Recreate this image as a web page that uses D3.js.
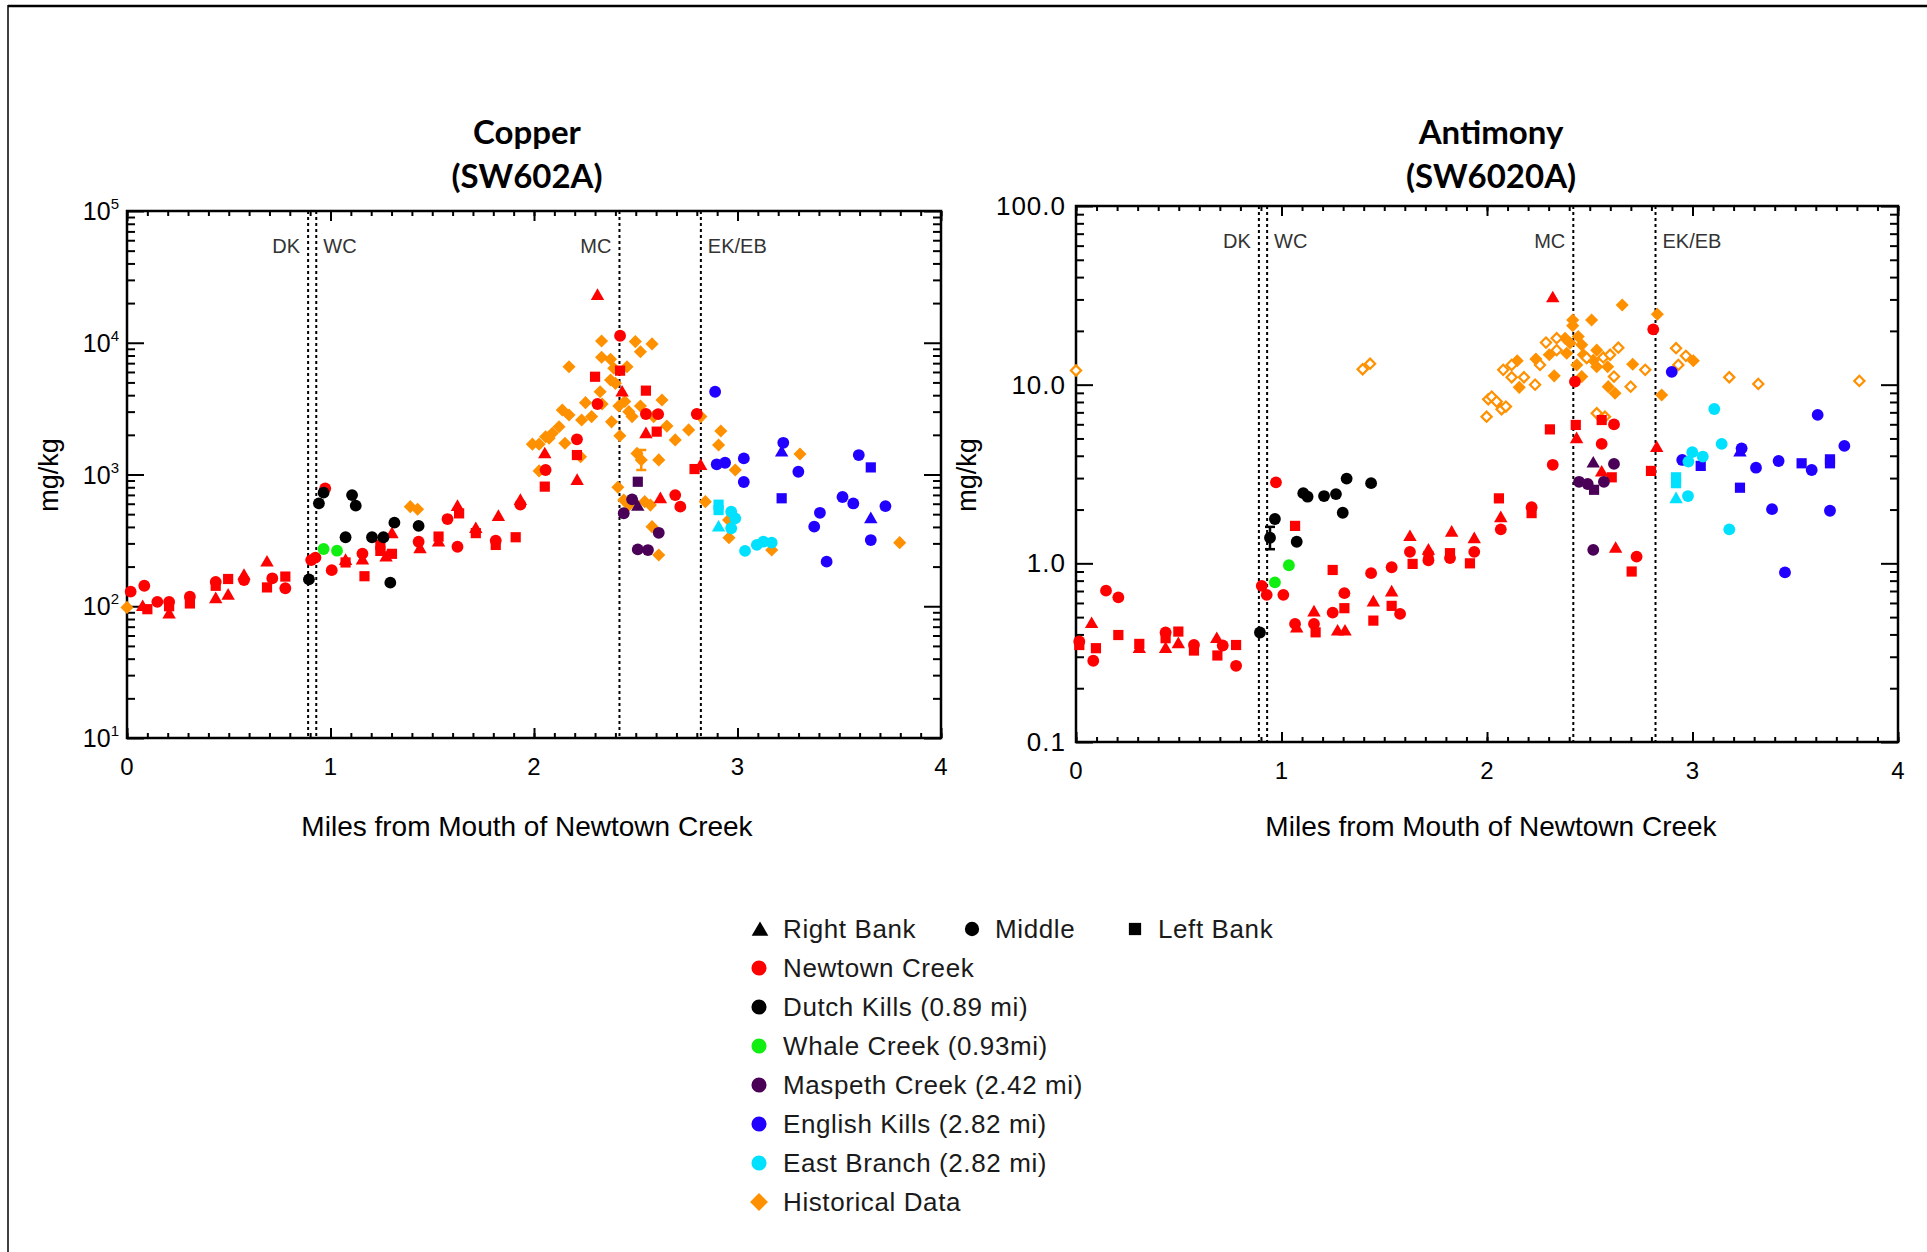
<!DOCTYPE html>
<html>
<head>
<meta charset="utf-8">
<script src="https://cdn.jsdelivr.net/npm/d3@7.9.0/dist/d3.min.js"></script>
<style>
  body { margin: 0; background: #fff; }
  svg { display: block; font-family: "Liberation Sans", Arial, sans-serif; }
</style>
</head>
<body>
<svg id="chart" width="1927" height="1252"></svg>
<script>
// ---- data: [miles, value, shape]  shape: t = right bank, c = middle, s = left bank
const cuNewtown = [
  [0.018,129,'c'],[0.085,143,'c'],[0.077,100,'t'],[0.10,95,'s'],[0.149,108,'c'],[0.207,108,'c'],[0.207,100,'s'],
  [0.207,88,'t'],[0.309,118,'c'],[0.309,105,'s'],[0.436,153,'c'],[0.436,143,'s'],[0.436,115,'t'],[0.497,161,'s'],
  [0.497,122,'t'],[0.575,173,'t'],[0.575,158,'c'],[0.688,218,'t'],[0.714,163,'c'],[0.688,139,'s'],[0.778,168,'s'],
  [0.778,137,'c'],[0.905,224,'c'],[0.926,234,'c'],[0.974,785,'c'],[1.006,188,'c'],[1.074,224,'t'],[1.074,215,'s'],
  [1.157,251,'c'],[1.157,226,'t'],[1.167,169,'s'],[1.245,292,'s'],[1.245,263,'s'],[1.302,358,'t'],[1.273,238,'t'],
  [1.302,250,'s'],[1.433,309,'c'],[1.44,275,'t'],[1.531,338,'s'],[1.531,309,'t'],[1.575,459,'c'],[1.624,576,'t'],
  [1.632,507,'s'],[1.624,283,'c'],[1.714,391,'t'],[1.714,359,'s'],[1.812,315,'c'],[1.812,292,'s'],[1.825,484,'t'],
  [1.91,334,'s'],[1.933,640,'t'],[1.933,590,'c'],[2.053,809,'s'],[2.053,1446,'t'],[2.057,1082,'c'],[2.312,23000,'t'],
  [2.423,11300,'c'],[2.423,6140,'s'],[2.30,5520,'s'],[2.433,4250,'t'],[2.55,4330,'s'],[2.312,3430,'c'],[2.55,2880,'c'],
  [2.61,2870,'c'],[2.80,2880,'c'],[2.55,2055,'t'],[2.603,2115,'s'],[2.211,1850,'c'],[2.211,1405,'s'],[2.212,908,'t'],
  [2.819,1180,'t'],[2.789,1100,'s'],[2.621,660,'t'],[2.694,698,'c'],[2.719,570,'c']
];
const cuDutch = [
  [0.894,160,'c'],[0.966,728,'c'],[0.943,604,'c'],[1.106,698,'c'],[1.124,580,'c'],[1.074,334,'c'],[1.204,334,'c'],
  [1.26,334,'c'],[1.314,431,'c'],[1.294,151,'c'],[1.433,407,'c']
];
const cuWhale = [[0.966,272,'c'],[1.032,264,'c']];
const cuMaspeth = [
  [2.51,881,'s'],[2.482,648,'c'],[2.51,577,'t'],[2.441,508,'c'],[2.613,361,'c'],[2.51,270,'c'],[2.56,267,'c']
];
const cuEnglish = [
  [2.89,4250,'c'],[2.898,1195,'c'],[2.939,1228,'c'],[3.031,1325,'c'],[3.031,877,'c'],[3.217,1490,'t'],[3.225,1740,'c'],
  [3.299,1050,'c'],[3.217,660,'s'],[3.596,1405,'c'],[3.655,1132,'s'],[3.516,675,'c'],[3.569,603,'c'],[3.727,576,'c'],
  [3.655,465,'t'],[3.405,512,'c'],[3.377,402,'c'],[3.655,318,'c'],[3.438,218,'c']
];
const cuEast = [
  [2.907,590,'s'],[2.907,537,'s'],[2.969,522,'c'],[2.989,465,'c'],[2.907,402,'t'],[2.969,391,'c'],[3.037,263,'c'],
  [3.095,292,'c'],[3.127,309,'c'],[3.168,304,'c']
];
const cuHistorical = [
  [0,98],[1.392,570],[1.428,545],[1.992,1700],[2.025,1700],[2.057,1936],[2.025,1065],[2.332,10300],[2.498,10200],
  [2.58,9800],[2.523,8550],[2.332,7760],[2.376,7490],[2.172,6580],[2.392,6400],[2.457,6580],[2.376,5210],[2.40,4920],
  [2.325,4250],[2.629,3675],[2.253,3510],[2.335,3430],[2.417,3310],[2.446,3580],[2.523,3310],[2.139,3090],[2.172,2830],
  [2.234,2595],[2.283,2750],[2.466,3000],[2.482,2750],[2.588,2750],[2.82,2750],[2.381,2510],[2.653,2330],[2.76,2180],
  [2.694,1830],[2.123,2305],[2.09,2055],[2.074,1885],[2.152,1725],[2.422,1970],[2.229,1365],[2.506,1446],[2.527,1290],
  [2.613,1290],[2.907,1675],[2.918,2140],[2.989,1082],[2.412,800],[2.441,640],[2.466,586],[2.544,622],[2.572,586],
  [2.842,622],[2.58,402],[2.613,245],[2.956,452],[2.958,331],[3.168,267],[3.307,1430],[3.797,304]
];
const cuHistoricalOpen = [];
const cuErrors = [[2.527,1082,1535]];

const sbNewtown = [
  [0.016,0.365,'c'],[0.016,0.349,'s'],[0.076,0.462,'t'],[0.097,0.335,'s'],[0.084,0.285,'c'],[0.146,0.703,'c'],
  [0.206,0.645,'c'],[0.206,0.397,'s'],[0.308,0.335,'t'],[0.308,0.354,'s'],[0.436,0.41,'c'],[0.436,0.381,'s'],
  [0.436,0.335,'t'],[0.498,0.415,'s'],[0.498,0.357,'t'],[0.574,0.349,'c'],[0.574,0.325,'s'],[0.685,0.381,'t'],
  [0.714,0.347,'c'],[0.688,0.305,'s'],[0.779,0.349,'s'],[0.779,0.267,'c'],[0.904,0.748,'c'],[0.928,0.666,'c'],
  [1.009,0.666,'c'],[0.973,2.84,'c'],[1.066,1.62,'s'],[1.066,0.458,'c'],[1.074,0.437,'t'],[1.158,0.537,'t'],
  [1.158,0.458,'c'],[1.166,0.411,'s'],[1.249,0.918,'s'],[1.249,0.53,'c'],[1.273,0.42,'t'],[1.309,0.42,'t'],
  [1.306,0.561,'s'],[1.306,0.681,'c'],[1.436,0.881,'c'],[1.447,0.611,'t'],[1.447,0.478,'s'],[1.536,0.951,'c'],
  [1.536,0.695,'t'],[1.536,0.578,'s'],[1.577,0.521,'c'],[1.625,1.42,'t'],[1.625,1.16,'c'],[1.638,0.993,'s'],
  [1.715,1.19,'t'],[1.715,1.10,'s'],[1.715,1.04,'c'],[1.828,1.50,'t'],[1.82,1.14,'s'],[1.82,1.07,'c'],[1.917,1.0,'s'],
  [1.938,1.38,'t'],[1.938,1.16,'c'],[2.058,2.31,'s'],[2.067,1.81,'t'],[2.067,1.55,'c'],[2.217,2.06,'c'],[2.217,1.91,'s'],
  [2.32,30.8,'t'],[2.809,20.4,'c'],[2.428,10.4,'c'],[2.306,5.62,'s'],[2.432,5.95,'s'],[2.436,5.01,'t'],[2.558,6.34,'s'],
  [2.618,5.99,'c'],[2.558,4.66,'c'],[2.32,3.56,'c'],[2.826,4.47,'t'],[2.798,3.29,'s'],[2.558,3.26,'t'],[2.607,3.03,'s'],
  [2.626,1.22,'t'],[2.728,1.09,'c'],[2.704,0.90,'s']
];
const sbDutch = [
  [0.895,0.41,'c'],[0.944,1.39,'c'],[0.968,1.77,'c'],[1.074,1.32,'c'],[1.106,2.47,'c'],[1.127,2.36,'c'],[1.207,2.38,'c'],
  [1.265,2.44,'c'],[1.317,2.98,'c'],[1.436,2.81,'c'],[1.298,1.92,'c']
];
const sbWhale = [[0.968,0.783,'c'],[1.036,0.976,'c']];
const sbMaspeth = [
  [2.517,3.66,'t'],[2.618,3.6,'c'],[2.448,2.86,'c'],[2.49,2.78,'c'],[2.569,2.86,'c'],[2.521,2.58,'s'],[2.517,1.19,'c']
];
const sbEnglish = [
  [2.899,11.8,'c'],[3.609,6.77,'c'],[3.231,4.22,'t'],[3.239,4.4,'c'],[3.739,4.54,'c'],[2.95,3.79,'c'],[3.04,3.51,'s'],
  [3.309,3.43,'c'],[3.419,3.74,'c'],[3.531,3.63,'s'],[3.58,3.33,'c'],[3.669,3.82,'s'],[3.669,3.63,'s'],[3.231,2.65,'s'],
  [3.387,2.01,'c'],[3.669,1.97,'c'],[3.45,0.89,'c']
];
const sbEast = [
  [3.106,7.31,'c'],[3.142,4.66,'c'],[2.999,4.19,'c'],[3.05,3.96,'c'],[2.98,3.71,'c'],[2.92,3.03,'s'],[2.92,2.81,'s'],
  [2.92,2.31,'t'],[2.978,2.38,'c'],[3.179,1.55,'c']
];
const sbHistorical = [
  [2.658,27.9],[2.829,24.8],[2.417,23.0],[2.417,21.4],[2.509,23.0],[2.38,18.2],[2.404,17.1],[2.444,18.6],[2.461,16.7],
  [2.303,14.7],[2.388,15.0],[2.238,13.9],[2.437,12.9],[2.469,14.7],[2.534,15.6],[2.517,13.7],[2.534,12.6],[2.587,12.6],
  [2.709,13.0],[2.461,11.1],[2.59,9.75],[2.623,8.96],[2.327,11.2],[2.157,9.66],[2.147,13.6],[2.85,8.75],[3.004,13.6]
];
const sbHistoricalOpen = [
  [0,12.0],[1.395,12.2],[1.431,13.1],[1.998,6.62],[2.006,8.28],[2.287,17.2],[2.339,18.2],[2.339,15.6],[2.258,12.9],
  [2.485,14.1],[2.566,14.2],[2.599,14.7],[2.639,16.1],[2.77,12.1],[2.618,11.1],[2.699,9.75],[2.234,10.0],[2.18,11.0],
  [2.12,11.0],[2.079,12.1],[2.12,12.9],[2.023,8.57],[2.047,8.04],[2.071,7.28],[2.092,7.54],[2.92,16.0],[2.968,14.5],
  [2.931,12.9],[2.534,6.92],[2.574,6.62],[3.179,11.0],[3.32,10.1],[3.812,10.5]
];
const sbErrors = [[0.944,1.20,1.60]];

const tributaryMiles = [0.89, 0.93, 2.42, 2.82];
const tributaryLabels = ['DK', 'WC', 'MC', 'EK/EB'];
const tributaryAnchor = ['end', 'start', 'end', 'start'];
const xTicks = [0, 1, 2, 3, 4];

const legendNames = ['Newtown Creek', 'Dutch Kills (0.89 mi)', 'Whale Creek (0.93mi)', 'Maspeth Creek (2.42 mi)',
  'English Kills (2.82 mi)', 'East Branch (2.82 mi)', 'Historical Data'];
const legendColors = ['#ff0000', '#000000', '#11ee11', '#4a0057', '#2200ff', '#00e0ff', '#ff9000'];
const shapeNames = ['Right Bank', 'Middle', 'Left Bank'];

const svg = d3.select('#chart');

// page frame
svg.append('line').attr('x1', 8).attr('x2', 1927).attr('y1', 6).attr('y2', 6)
  .attr('stroke', '#000').attr('stroke-width', 2.5);
svg.append('line').attr('x1', 8).attr('x2', 8).attr('y1', 5).attr('y2', 1252)
  .attr('stroke', '#000').attr('stroke-width', 1.5);

function markerPath(shape) {
  if (shape === 't') return d3.symbol(d3.symbolTriangle, 78)();
  if (shape === 's') return d3.symbol(d3.symbolSquare, 104)();
  if (shape === 'd') return d3.symbol(d3.symbolSquare, 86)();
  return d3.symbol(d3.symbolCircle, 110)();
}

function drawPanel(p) {
  const w = p.right - p.left, h = p.bottom - p.top;
  const g = svg.append('g').attr('transform', `translate(${p.left},${p.top})`);
  const x = d3.scaleLinear().domain([0, 4]).range([0, w]);
  const y = d3.scaleLog().domain(p.yDomain).range([h, 0]);

  const minorX = d3.range(0, 40.5, 1).map(d => d / 10);
  const decades = d3.range(Math.log10(p.yDomain[0]), Math.log10(p.yDomain[1]) + 0.5, 1).map(d => Math.pow(10, d));
  const minorY = [];
  decades.slice(0, -1).forEach(d => { for (let k = 2; k <= 9; k++) minorY.push(d * k); });

  const styleAxis = sel => {
    sel.select('.domain').remove();
    sel.selectAll('line').attr('stroke', '#000').attr('stroke-width', 2);
    sel.selectAll('text').remove();
  };
  g.append('g').attr('transform', `translate(0,${h})`).call(d3.axisBottom(x).tickValues(minorX).tickSize(-5)).call(styleAxis);
  g.append('g').attr('transform', `translate(0,${h})`).call(d3.axisBottom(x).tickValues(xTicks).tickSize(-10)).call(styleAxis);
  g.append('g').call(d3.axisTop(x).tickValues(minorX).tickSize(-5)).call(styleAxis);
  g.append('g').call(d3.axisTop(x).tickValues(xTicks).tickSize(-10)).call(styleAxis);
  g.append('g').call(d3.axisLeft(y).tickValues(minorY).tickSize(-8)).call(styleAxis);
  g.append('g').call(d3.axisLeft(y).tickValues(decades).tickSize(-17)).call(styleAxis);
  g.append('g').attr('transform', `translate(${w},0)`).call(d3.axisRight(y).tickValues(minorY).tickSize(-8)).call(styleAxis);
  g.append('g').attr('transform', `translate(${w},0)`).call(d3.axisRight(y).tickValues(decades).tickSize(-17)).call(styleAxis);

  g.append('rect').attr('width', w).attr('height', h).attr('fill', 'none')
    .attr('stroke', '#000').attr('stroke-width', 2.5);

  // x tick labels
  g.selectAll('.xl').data(xTicks).join('text')
    .attr('x', d => x(d)).attr('y', h + 37).attr('text-anchor', 'middle')
    .attr('font-size', 24).text(d => d);

  // y tick labels
  decades.forEach(d => {
    const t = g.append('text').attr('y', y(d) + 9).attr('text-anchor', 'end').attr('font-size', 25);
    if (p.powerLabels) {
      t.attr('x', -8);
      t.append('tspan').text('10');
      t.append('tspan').attr('font-size', 15).attr('dy', -11).text(Math.round(Math.log10(d)));
    } else {
      t.attr('x', -10).attr('font-size', 26).attr('letter-spacing', 1).text(d3.format('.1f')(d));
    }
  });

  // tributary lines
  tributaryMiles.forEach((m, i) => {
    g.append('line').attr('x1', x(m)).attr('x2', x(m)).attr('y1', 0).attr('y2', h)
      .attr('stroke', '#000').attr('stroke-width', 2).attr('stroke-dasharray', '3,3');
    g.append('text').attr('x', x(m) + (tributaryAnchor[i] === 'end' ? -8 : 7)).attr('y', 42)
      .attr('text-anchor', tributaryAnchor[i]).attr('font-size', 20).attr('fill', '#333').text(tributaryLabels[i]);
  });

  // historical
  g.selectAll('.hist').data(p.historical).join('path')
    .attr('d', markerPath('d'))
    .attr('transform', d => `translate(${x(d[0])},${y(d[1])}) rotate(45)`)
    .attr('fill', legendColors[6]);
  g.selectAll('.histo').data(p.historicalOpen).join('path')
    .attr('d', d3.symbol(d3.symbolSquare, 52)())
    .attr('transform', d => `translate(${x(d[0])},${y(d[1])}) rotate(45)`)
    .attr('fill', '#fff').attr('stroke', legendColors[6]).attr('stroke-width', 2.2);

  // error bars
  p.errors.forEach(e => {
    const ex = x(e[0]);
    g.append('line').attr('x1', ex).attr('x2', ex).attr('y1', y(e[1])).attr('y2', y(e[2]))
      .attr('stroke', p.errorColor).attr('stroke-width', 2.5);
    [e[1], e[2]].forEach(v => g.append('line').attr('x1', ex - 5).attr('x2', ex + 5).attr('y1', y(v)).attr('y2', y(v))
      .attr('stroke', p.errorColor).attr('stroke-width', 2.5));
  });

  p.groups.forEach((grp, gi) => {
    g.selectAll(null).data(grp).join('path')
      .attr('d', d => markerPath(d[2]))
      .attr('transform', d => `translate(${x(d[0])},${y(d[1]) + (d[2] === 't' ? 1 : 0)})`)
      .attr('fill', legendColors[gi]);
  });

  // titles
  const cx = p.titleX;
  g.append('text').attr('x', cx - p.left).attr('y', 144 - p.top).attr('text-anchor', 'middle')
    .attr('font-family', 'Lato, "Open Sans", sans-serif').attr('font-weight', 'bold').attr('font-size', 33)
    .text(p.title);
  g.append('text').attr('x', cx - p.left).attr('y', 188 - p.top).attr('text-anchor', 'middle')
    .attr('font-family', 'Lato, "Open Sans", sans-serif').attr('font-weight', 'bold').attr('font-size', 33)
    .text(p.subtitle);

  g.append('text').attr('x', cx - p.left).attr('y', 836 - p.top).attr('text-anchor', 'middle')
    .attr('font-size', 28).text('Miles from Mouth of Newtown Creek');
  g.append('text').attr('transform', `translate(${p.ylabX - p.left},${475 - p.top}) rotate(-90)`)
    .attr('text-anchor', 'middle').attr('font-size', 27).text('mg/kg');
}

drawPanel({
  left: 127, top: 211, right: 941, bottom: 738, yDomain: [10, 1e5], powerLabels: true,
  title: 'Copper', subtitle: '(SW602A)', titleX: 527, ylabX: 58,
  historical: cuHistorical, historicalOpen: cuHistoricalOpen, errors: cuErrors, errorColor: legendColors[6],
  groups: [cuNewtown, cuDutch, cuWhale, cuMaspeth, cuEnglish, cuEast]
});
drawPanel({
  left: 1076, top: 206, right: 1898, bottom: 742, yDomain: [0.1, 100], powerLabels: false,
  title: 'Antimony', subtitle: '(SW6020A)', titleX: 1491, ylabX: 976,
  historical: sbHistorical, historicalOpen: sbHistoricalOpen, errors: sbErrors, errorColor: '#000',
  groups: [sbNewtown, sbDutch, sbWhale, sbMaspeth, sbEnglish, sbEast]
});

// legend
const lg = svg.append('g').attr('font-size', 26).attr('letter-spacing', 0.6).attr('fill', '#1a1a1a');
const shapeX = [760, 972, 1135];
['t', 'c', 's'].forEach((s, i) => {
  lg.append('path').attr('d', s === 't' ? d3.symbol(d3.symbolTriangle, 120)() : s === 's' ? d3.symbol(d3.symbolSquare, 150)() : d3.symbol(d3.symbolCircle, 160)())
    .attr('transform', `translate(${shapeX[i]},${929 + (s === 't' ? 2 : 0)})`).attr('fill', '#000');
  lg.append('text').attr('x', shapeX[i] + 23).attr('y', 938).text(shapeNames[i]);
});
legendNames.forEach((name, i) => {
  const cy = 968 + i * 39;
  const m = i === 6 ? d3.symbol(d3.symbolSquare, 160)() : d3.symbol(d3.symbolCircle, 180)();
  lg.append('path').attr('d', m)
    .attr('transform', `translate(759,${cy})${i === 6 ? ' rotate(45)' : ''}`).attr('fill', legendColors[i]);
  lg.append('text').attr('x', 783).attr('y', cy + 9).text(name);
});
</script>
</body>
</html>
